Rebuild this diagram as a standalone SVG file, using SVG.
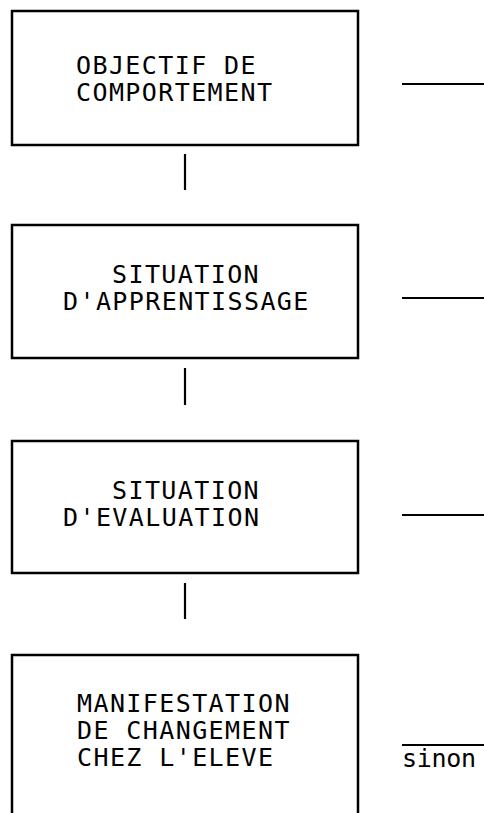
<svg xmlns="http://www.w3.org/2000/svg" width="484" height="813" viewBox="0 0 484 813">
<style>
.box{fill:none;stroke:#000;stroke-width:2.5}
.ln{stroke:#000;stroke-width:2.2;fill:none}
.t{font-family:"DejaVu Sans Mono","Liberation Mono",monospace;font-size:25px;letter-spacing:1.4px;fill:#000}
.s{font-family:"DejaVu Sans Mono","Liberation Mono",monospace;font-size:25px;letter-spacing:-0.3px;fill:#000}
</style>
<rect width="484" height="813" fill="#fff"/>
<g id="connectors">
<line class="ln" x1="185" y1="154" x2="185" y2="190"/>
<line class="ln" x1="185" y1="368" x2="185" y2="405"/>
<line class="ln" x1="185" y1="583" x2="185" y2="619"/>
<line class="ln" x1="402" y1="84" x2="484" y2="84"/>
<line class="ln" x1="402" y1="298" x2="484" y2="298"/>
<line class="ln" x1="402" y1="515" x2="484" y2="515"/>
<line class="ln" x1="402" y1="745" x2="484" y2="745"/>
</g>
<g id="n1">
<rect class="box" x="12" y="11" width="346" height="134"/>
<text class="t" x="76" y="74">OBJECTIF DE</text>
<text class="t" x="76" y="101">COMPORTEMENT</text>
</g>
<g id="n2">
<rect class="box" x="12" y="225" width="346" height="133"/>
<text class="t" x="112" y="283">SITUATION</text>
<text class="t" x="63" y="310">D'APPRENTISSAGE</text>
</g>
<g id="n3">
<rect class="box" x="12" y="441" width="346" height="132"/>
<text class="t" x="112" y="499">SITUATION</text>
<text class="t" x="63" y="526">D'EVALUATION</text>
</g>
<g id="n4">
<path class="box" d="M12,830 V655 H358 V830"/>
<text class="t" x="77" y="712">MANIFESTATION</text>
<text class="t" x="77" y="739">DE CHANGEMENT</text>
<text class="t" x="77" y="766">CHEZ L'ELEVE</text>
</g>
<g id="sinon">
<text class="s" x="402" y="767">sinon</text>
</g>
</svg>
